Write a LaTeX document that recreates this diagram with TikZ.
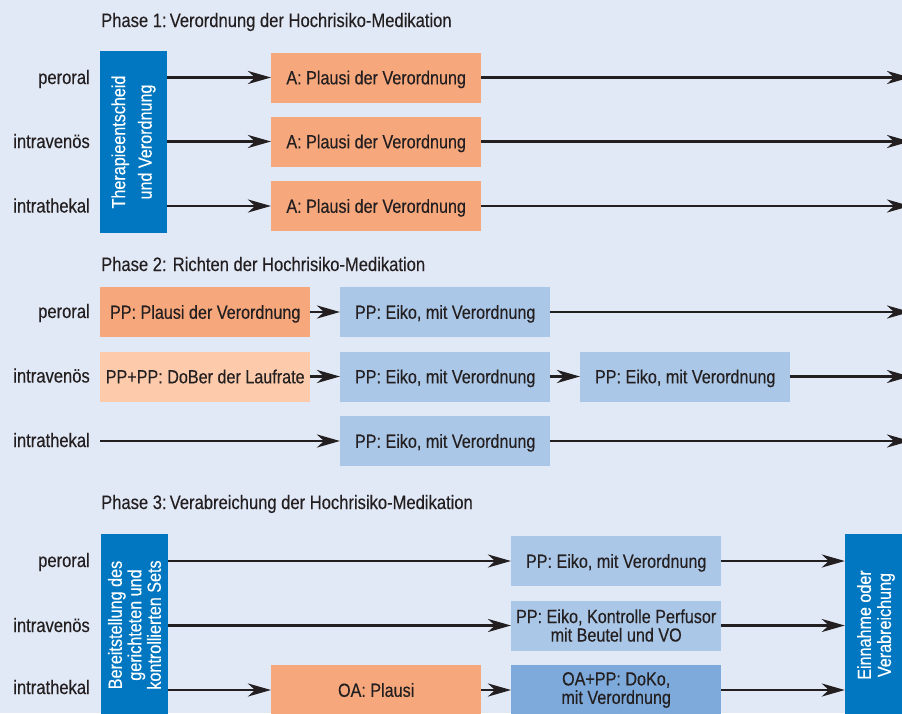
\documentclass[tikz,border=0pt]{standalone}
\usepackage{fontspec}
\setmainfont{Liberation Sans}[FakeStretch=0.85,FakeBold=0.3]
\usetikzlibrary{arrows.meta}
\definecolor{bg}{HTML}{E2E9F6}
\definecolor{txt}{HTML}{231F20}
\definecolor{dblue}{HTML}{0077C0}
\definecolor{orng}{HTML}{F6A77C}
\definecolor{lorng}{HTML}{FDCBAC}
\definecolor{lblue}{HTML}{ABC7E7}
\definecolor{mblue}{HTML}{7EAADB}
\begin{document}
\begin{tikzpicture}[x=1pt,y=-1pt,
  every node/.style={text=txt, font=\fontsize{19}{21}\selectfont},
  boxbase/.style={anchor=west, inner sep=0pt, minimum width=210pt, minimum height=50pt, align=center},
  box/.style={boxbase, text height=13.6pt, text depth=0pt},
  twobox/.style={boxbase, font=\fontsize{19}{18.5}\selectfont},
  lbl/.style={anchor=base east, inner sep=0pt, font=\fontsize{19.5}{21}\selectfont},
  ttl/.style={anchor=base west, inner sep=0pt, font=\fontsize{19.5}{21}\selectfont},
  vbox/.style={rotate=90, inner sep=0pt, fill=dblue, text=white, align=center, minimum width=182pt},
  arr/.style={line width=2.8pt, draw=txt, -{Stealth[length=23pt,width=13pt,inset=7pt]}}]
\useasboundingbox (0,0) rectangle (902,713);
\clip (0,0) rectangle (902,713);
\fill[bg] (0,0) rectangle (902,713);

% ---------- Phase 1 ----------
\node[ttl] (t1) at (101,27) {Phase 1:\hspace{0.16em}Verordnung der Hochrisiko-Medikation};
\node[lbl] (l1a) at (90,84) {peroral};
\node[lbl] (l1b) at (90,148) {intravenös};
\node[lbl] (l1c) at (90,212.5) {intrathekal};
\node[vbox, minimum height=67pt, font=\fontsize{19}{26.5}\selectfont] (b1) at (133.5,142) {Therapieentscheid\\und Verordnung};
\node[box, fill=orng] (p1a) at (271,77.5) {A: Plausi der Verordnung};
\node[box, fill=orng] (p1b) at (271,141.5) {A: Plausi der Verordnung};
\node[box, fill=orng] (p1c) at (271,206) {A: Plausi der Verordnung};
\coordinate (e1a) at (910,77.5);
\coordinate (e1b) at (910,141.5);
\coordinate (e1c) at (910,206);
\draw[arr] (b1.south |- p1a) -- (p1a.west);
\draw[arr] (b1.south |- p1b) -- (p1b.west);
\draw[arr] (b1.south |- p1c) -- (p1c.west);
\draw[arr] (p1a.east) -- (e1a);
\draw[arr] (p1b.east) -- (e1b);
\draw[arr] (p1c.east) -- (e1c);

% ---------- Phase 2 ----------
\node[ttl] (t2) at (101,271) {Phase 2: Richten der Hochrisiko-Medikation};
\node[lbl] (l2a) at (90,318) {peroral};
\node[lbl] (l2b) at (90,382.5) {intravenös};
\node[lbl] (l2c) at (90,447) {intrathekal};
\node[box, fill=orng] (p2a) at (100,312) {PP: Plausi der Verordnung};
\node[box, fill=lblue] (p2b) at (340,312) {PP: Eiko, mit Verordnung};
\node[box, fill=lorng] (p2c) at (100,376.5) {PP+PP: DoBer der Laufrate};
\node[box, fill=lblue] (p2d) at (340,376.5) {PP: Eiko, mit Verordnung};
\node[box, fill=lblue] (p2e) at (580,376.5) {PP: Eiko, mit Verordnung};
\node[box, fill=lblue] (p2f) at (340,441) {PP: Eiko, mit Verordnung};
\coordinate (s2f) at (100,441);
\coordinate (e2a) at (910,312);
\coordinate (e2b) at (910,376.5);
\coordinate (e2c) at (910,441);
\draw[arr] (p2a.east) -- (p2b.west);
\draw[arr] (p2b.east) -- (e2a);
\draw[arr] (p2c.east) -- (p2d.west);
\draw[arr] (p2d.east) -- (p2e.west);
\draw[arr] (p2e.east) -- (e2b);
\draw[arr] (s2f) -- (p2f.west);
\draw[arr] (p2f.east) -- (e2c);

% ---------- Phase 3 ----------
\node[ttl] (t3) at (101,509) {Phase 3:\hspace{0.16em}Verabreichung der Hochrisiko-Medikation};
\node[lbl] (l3a) at (90,567) {peroral};
\node[lbl] (l3b) at (90,632) {intravenös};
\node[lbl] (l3c) at (90,694) {intrathekal};
\node[vbox, minimum height=67pt, font=\fontsize{19}{19.5}\selectfont] (b3) at (134.5,625) {Bereitstellung des\\gerichteten und\\kontrollierten Sets};
\node[vbox, minimum height=62pt, font=\fontsize{19}{20}\selectfont] (b4) at (876,625) {Einnahme oder\\Verabreichung};
\node[box, fill=lblue] (p3a) at (511,561) {PP: Eiko, mit Verordnung};
\node[twobox, fill=lblue] (p3b) at (511,625.5) {PP: Eiko, Kontrolle Perfusor\\mit Beutel und VO};
\node[box, fill=orng] (p3c) at (271,690) {OA: Plausi};
\node[twobox, fill=mblue] (p3d) at (511,690) {OA+PP: DoKo,\\mit Verordnung};
\draw[arr] (b3.south |- p3a) -- (p3a.west);
\draw[arr] (b3.south |- p3b) -- (p3b.west);
\draw[arr] (b3.south |- p3c) -- (p3c.west);
\draw[arr] (p3c.east) -- (p3d.west);
\draw[arr] (p3a.east) -- (b4.north |- p3a);
\draw[arr] (p3b.east) -- (b4.north |- p3b);
\draw[arr] (p3d.east) -- (b4.north |- p3d);
\end{tikzpicture}
\end{document}
